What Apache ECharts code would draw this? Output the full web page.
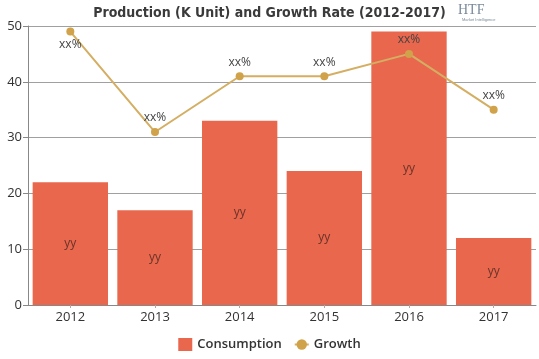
<!DOCTYPE html>
<html><head><meta charset="utf-8">
<script src="https://cdn.jsdelivr.net/npm/echarts@6/dist/echarts.min.js"></script>
<style>html,body{margin:0;padding:0;background:#fff}#c{width:539px;height:359px}</style>
</head><body><div id="c"></div>
<script>
var categories = ['2012','2013','2014','2015','2016','2017'];
var consumption = [22, 17, 33, 24, 49, 12];
var growth = [49, 31, 41, 41, 45, 35];
var yTicks = [0, 10, 20, 30, 40, 50];

var chart = echarts.init(document.getElementById('c'));
chart.setOption({
  animation: false,
  title: {
    text: 'Production (K Unit) and Growth Rate (2012-2017)',
    left: 'center', top: 1,
    textStyle: {fontFamily: 'Liberation Sans Narrow, DejaVu Sans Condensed, sans-serif', fontWeight: 'bold', fontSize: 14, color: '#3a3a3a'}
  },
  graphic: [
    {type: 'text', left: 458, top: 3, style: {text: 'HTF', fontFamily: 'Liberation Serif', fontSize: 14, fill: '#7a8a9a'}},
    {type: 'text', left: 462, top: 18, style: {text: 'Market Intelligence', fontFamily: 'Liberation Sans', fontSize: 4, fill: '#7a8a9a'}}
  ],
  grid: {left: 28, right: 3, top: 26, bottom: 54},
  legend: {
    bottom: 3, left: 'center', itemWidth: 14, itemHeight: 13, itemGap: 12,
    textStyle: {fontFamily: 'Open Sans', fontSize: 13, color: '#333', fontWeight: 600},
    data: [{name: 'Consumption', icon: 'rect'}, {name: 'Growth'}]
  },
  xAxis: {
    type: 'category', data: categories,
    axisLine: {lineStyle: {color: '#888'}},
    axisTick: {show: true, alignWithLabel: true, length: 3, lineStyle: {color: '#aaa'}},
    axisLabel: {color: '#333', fontSize: 13, fontFamily: 'Open Sans', margin: 6}
  },
  yAxis: {
    type: 'value', min: 0, max: 50, interval: 10,
    axisLine: {show: true, lineStyle: {color: '#888'}},
    axisTick: {show: true, length: 5, lineStyle: {color: '#888'}},
    splitLine: {lineStyle: {color: '#a0a0a0'}},
    axisLabel: {color: '#333', fontSize: 13, fontFamily: 'Open Sans', margin: 6,
      formatter: function(v){ return yTicks.indexOf(v) >= 0 ? String(v) : ''; }}
  },
  series: [
    {
      name: 'Consumption', type: 'bar', data: consumption, barCategoryGap: '11%',
      itemStyle: {color: '#E8674D'}, z: 2,
      label: {show: true, position: 'inside', formatter: 'yy', color: '#6b3328', fontSize: 12, fontFamily: 'Open Sans'}
    },
    {
      name: 'Growth', type: 'line', z: 3,
      data: growth.map(function(v, i){ return i === 0 ? {value: v, label: {position: 'bottom', distance: 3}} : v; }),
      symbol: 'circle', symbolSize: 8,
      lineStyle: {color: '#D4AE62', width: 2},
      itemStyle: {color: '#D0A24A'},
      label: {show: true, position: 'top', distance: 4, formatter: 'xx%', color: '#444', fontSize: 12, fontFamily: 'Open Sans'}
    }
  ]
});
</script></body></html>
